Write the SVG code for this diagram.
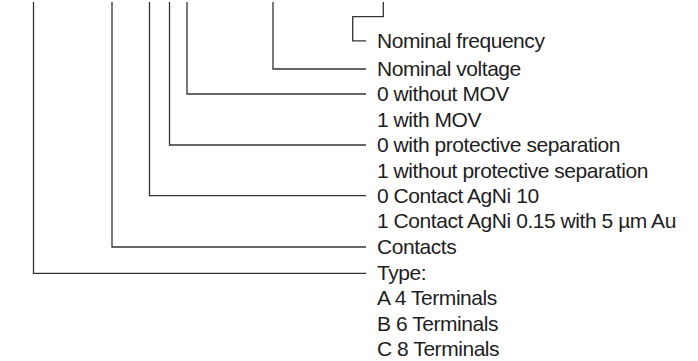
<svg xmlns="http://www.w3.org/2000/svg" width="698" height="361" viewBox="0 0 698 361">
  <style>
    .lead { fill: none; stroke: #333; stroke-width: 1.3; stroke-linejoin: miter; }
    .lbl { font-family: "Liberation Sans", Arial, sans-serif; font-size: 21px; letter-spacing: -0.45px; fill: #1e1e1e; }
  </style>
  <rect width="698" height="361" fill="#fff"/>

  <!-- leader lines from each code position to its legend -->
  <g id="connectors">
    <path class="lead" d="M383.3,2 V16.7 H352.7 V40.8 H366"/>
    <path class="lead" d="M273,2 V69 H366"/>
    <path class="lead" d="M187,2 V94 H366"/>
    <path class="lead" d="M169.5,2 V145 H366"/>
    <path class="lead" d="M149.5,2 V195.7 H366"/>
    <path class="lead" d="M112,2 V247 H366"/>
    <path class="lead" d="M33.5,2 V273.3 H366"/>
  </g>

  <g id="frequency"><text class="lbl" x="377" y="47.5">Nominal frequency</text></g>
  <g id="voltage"><text class="lbl" x="377" y="75.5">Nominal voltage</text></g>
  <g id="mov">
    <text class="lbl" x="377" y="101">0 without MOV</text>
    <text class="lbl" x="377" y="126.5">1 with MOV</text>
  </g>
  <g id="separation">
    <text class="lbl" x="377" y="152">0 with protective separation</text>
    <text class="lbl" x="377" y="177.5">1 without protective separation</text>
  </g>
  <g id="contact-material">
    <text class="lbl" x="377" y="202.5">0 Contact AgNi 10</text>
    <text class="lbl" x="377" y="228">1 Contact AgNi 0.15 with 5 µm Au</text>
  </g>
  <g id="contacts"><text class="lbl" x="377" y="253.5">Contacts</text></g>
  <g id="type">
    <text class="lbl" x="377" y="279.5">Type:</text>
    <text class="lbl" x="377" y="305">A 4 Terminals</text>
    <text class="lbl" x="377" y="330.5">B 6 Terminals</text>
    <text class="lbl" x="377" y="356">C 8 Terminals</text>
  </g>
</svg>
